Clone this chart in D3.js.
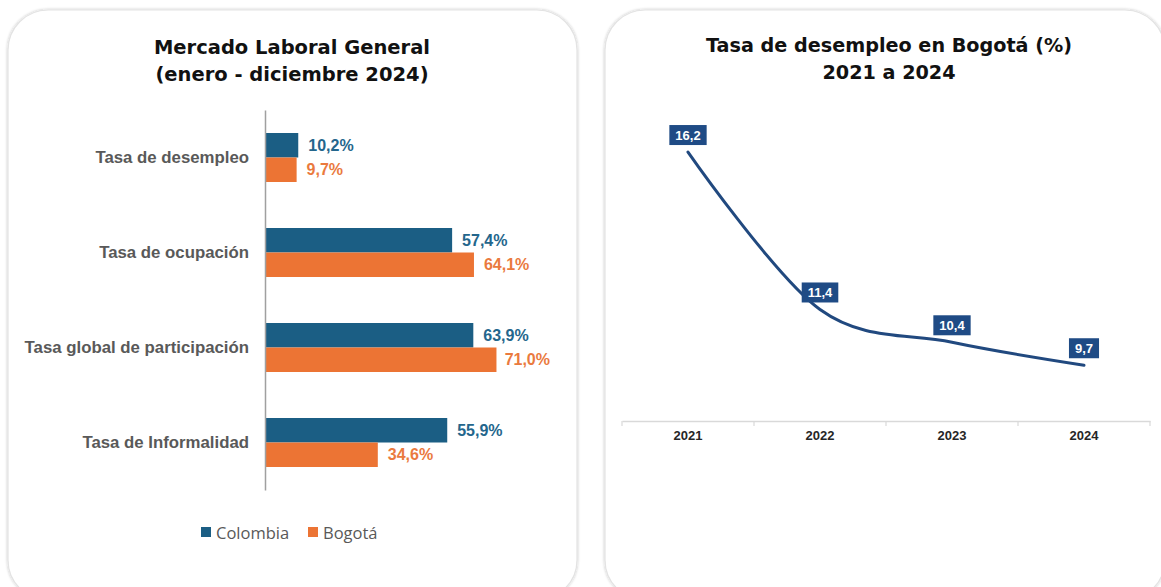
<!DOCTYPE html>
<html>
<head>
<meta charset="utf-8">
<script src="https://cdn.jsdelivr.net/npm/d3@7"></script>
<style>
  html, body { margin: 0; padding: 0; background: #ffffff; }
  svg { display: block; }
</style>
</head>
<body>
<svg id="chart" width="1161" height="587"></svg>
<script>
// ---- Mercado laboral general (enero - diciembre 2024) ----
const categories = ["Tasa de desempleo", "Tasa de ocupación", "Tasa global de participación", "Tasa de Informalidad"];
const seriesNames = ["Colombia", "Bogotá"];
const colombiaValues = [10.2, 57.4, 63.9, 55.9];
const bogotaValues = [9.7, 64.1, 71.0, 34.6];

// ---- Tasa de desempleo en Bogotá 2021 a 2024 ----
const years = ["2021", "2022", "2023", "2024"];
const unemploymentBogota = [16.2, 11.4, 10.4, 9.7];

const BLUE = "#1b5e84";
const ORANGE = "#ec7434";
const NAVY = "#21497f";
const GRAY_TEXT = "#595959";

const svg = d3.select("#chart");

// soft shadow for the two cards
const defs = svg.append("defs");
const f = defs.append("filter").attr("id", "cardShadow")
  .attr("x", "-5%").attr("y", "-5%").attr("width", "110%").attr("height", "110%");
f.append("feGaussianBlur").attr("in", "SourceAlpha").attr("stdDeviation", 1.5).attr("result", "b");
f.append("feOffset").attr("in", "b").attr("dx", 0).attr("dy", 0).attr("result", "o");
f.append("feComponentTransfer").attr("in", "o").attr("result", "s")
  .append("feFuncA").attr("type", "linear").attr("slope", 0.25);
const fm = f.append("feMerge");
fm.append("feMergeNode").attr("in", "s");
fm.append("feMergeNode").attr("in", "SourceGraphic");

function card(x, y, w, h) {
  svg.append("rect")
    .attr("x", x).attr("y", y).attr("width", w).attr("height", h)
    .attr("rx", 40).attr("ry", 40)
    .attr("fill", "#ffffff")
    .attr("stroke", "#e3e3e3").attr("stroke-width", 1.2)
    .attr("filter", "url(#cardShadow)");
}
card(8, 10, 569, 590);
card(605, 10, 560, 590);

function title(cx, lines, y0, size) {
  const t = svg.append("text")
    .attr("text-anchor", "middle")
    .attr("font-family", "'DejaVu Sans', sans-serif")
    .attr("font-weight", "bold")
    .attr("font-size", size)
    .attr("fill", "#111111");
  lines.forEach((l, i) => {
    t.append("tspan").attr("x", cx).attr("y", y0 + i * 26.5).text(l);
  });
}
title(292, ["Mercado Laboral General", "(enero - diciembre 2024)"], 54, 19.5);
title(889, ["Tasa de desempleo en Bogotá (%)", "2021 a 2024"], 52, 19.2);

// ================= Left: grouped horizontal bars =================
const x = d3.scaleLinear().domain([0, 80]).range([265, 265 + 80 * 3.26]);
const y = d3.scaleBand().domain(categories).range([110, 490]).padding(0);
const ySub = d3.scaleBand().domain(seriesNames).range([23, 72]).padding(0);
const color = d3.scaleOrdinal().domain(seriesNames).range([BLUE, ORANGE]);
const plotRight = 550;

const rows = categories.map((c, i) => ({
  cat: c,
  values: [
    { name: "Colombia", value: colombiaValues[i] },
    { name: "Bogotá", value: bogotaValues[i] }
  ]
}));

const fmtPct = v => d3.format(".1f")(v).replace(".", ",") + "%";

const groups = svg.append("g").selectAll("g")
  .data(rows).join("g")
  .attr("transform", d => `translate(0,${y(d.cat)})`);

groups.selectAll("rect")
  .data(d => d.values).join("rect")
  .attr("x", x(0))
  .attr("y", d => ySub(d.name))
  .attr("width", d => x(d.value) - x(0))
  .attr("height", ySub.bandwidth())
  .attr("fill", d => color(d.name));

groups.selectAll("text.val")
  .data(d => d.values).join("text")
  .attr("class", "val")
  .attr("font-family", "'Liberation Sans', Arial, sans-serif")
  .attr("font-weight", "bold")
  .attr("font-size", 16)
  .attr("fill", d => d.name === "Colombia" ? "#24668c" : "#ea7a3e")
  .attr("y", d => ySub(d.name) + ySub.bandwidth() / 2)
  .attr("dominant-baseline", "central")
  .text(d => fmtPct(d.value))
  .attr("x", function (d) {
    const w = this.getComputedTextLength();
    return Math.min(x(d.value) + 10, plotRight - w);
  });

// category axis (left)
const yAxis = svg.append("g")
  .attr("transform", `translate(${x(0)},0)`)
  .call(d3.axisLeft(y).tickSize(0).tickPadding(16));
yAxis.select(".domain")
  .attr("stroke", "#a0a0a0").attr("stroke-width", 1.5);
yAxis.selectAll("text")
  .attr("font-family", "'Liberation Sans', Arial, sans-serif")
  .attr("font-weight", "bold")
  .attr("font-size", 16.8)
  .attr("fill", GRAY_TEXT);

// legend
const legend = svg.append("g").attr("transform", "translate(201,532)");
const legendX = [0, 107];
seriesNames.forEach((s, i) => {
  const g = legend.append("g").attr("transform", `translate(${legendX[i]},0)`);
  g.append("rect").attr("x", 0).attr("y", -5).attr("width", 10).attr("height", 10).attr("fill", color(s));
  g.append("text").attr("x", 15).attr("y", 0)
    .attr("dominant-baseline", "central")
    .attr("font-family", "'Open Sans', sans-serif")
    .attr("font-size", 16.5)
    .attr("fill", GRAY_TEXT)
    .text(s);
});

// ================= Right: smoothed line =================
const xr = d3.scaleBand().domain(years).range([622, 1150]).padding(0);
const yr = d3.scaleLinear().domain([8, 18]).range([421, 93]);

const xAxis = svg.append("g")
  .attr("transform", "translate(0,421)")
  .call(d3.axisBottom(xr).tickSize(0).tickPadding(10));
xAxis.select(".domain").attr("stroke", "#d9d9d9").attr("stroke-width", 1.5);
xAxis.selectAll("text")
  .attr("font-family", "'Liberation Sans', Arial, sans-serif")
  .attr("font-weight", "bold")
  .attr("font-size", 13)
  .attr("fill", "#262626");

// tick marks between categories
const bounds = years.map(yv => xr(yv)).concat([xr.range()[1]]);
svg.append("g").selectAll("line")
  .data(bounds).join("line")
  .attr("x1", d => d).attr("x2", d => d)
  .attr("y1", 421).attr("y2", 426)
  .attr("stroke", "#d9d9d9").attr("stroke-width", 1.2);

const pts = years.map((yv, i) => ({ year: yv, value: unemploymentBogota[i] }));
const line = d3.line()
  .x(d => xr(d.year) + xr.bandwidth() / 2)
  .y(d => yr(d.value))
  .curve(d3.curveCardinal.tension(0));

svg.append("path")
  .datum(pts)
  .attr("d", line)
  .attr("fill", "none")
  .attr("stroke", NAVY)
  .attr("stroke-width", 3)
  .attr("stroke-linecap", "round");

const fmtNum = v => d3.format(".1f")(v).replace(".", ",");
const lbl = svg.append("g").selectAll("g")
  .data(pts).join("g")
  .attr("transform", d => `translate(${xr(d.year) + xr.bandwidth() / 2},${yr(d.value) - 17})`);
lbl.append("rect").attr("fill", "#1f4b85");
lbl.append("text")
  .attr("text-anchor", "middle")
  .attr("dominant-baseline", "central")
  .attr("font-family", "'Liberation Sans', Arial, sans-serif")
  .attr("font-weight", "bold")
  .attr("font-size", 13)
  .attr("fill", "#ffffff")
  .text(d => fmtNum(d.value));
lbl.each(function () {
  const g = d3.select(this);
  const w = g.select("text").node().getComputedTextLength() + 12;
  g.select("rect").attr("x", -w / 2).attr("y", -10).attr("width", w).attr("height", 20);
});
</script>
</body>
</html>
